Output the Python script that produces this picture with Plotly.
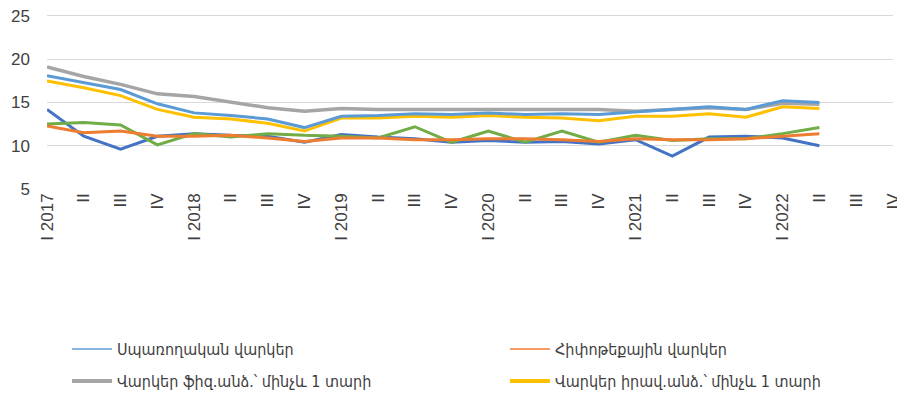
import plotly.graph_objects as go

categories = ["I 2017", "II", "III", "IV", "I 2018", "II", "III", "IV",
              "I 2019", "II", "III", "IV", "I 2020", "II", "III", "IV",
              "I 2021", "II", "III", "IV", "I 2022", "II", "III", "IV"]

consumer = [18.1, 17.3, 16.5, 14.85, 13.8, 13.5, 13.1, 12.1, 13.4, 13.5, 13.7, 13.6,
            13.8, 13.6, 13.7, 13.6, 13.9, 14.2, 14.5, 14.2, 15.2, 15.0]
mortgage = [12.3, 11.5, 11.7, 11.1, 11.1, 11.2, 10.9, 10.5, 10.9, 10.9, 10.7, 10.7,
            10.8, 10.8, 10.7, 10.5, 10.8, 10.7, 10.7, 10.8, 11.1, 11.4]
ind_short = [19.1, 18.0, 17.1, 16.0, 15.7, 15.1, 14.4, 14.0, 14.3, 14.2, 14.2, 14.2,
             14.2, 14.1, 14.2, 14.2, 14.0, 14.2, 14.4, 14.2, 14.9, 14.8]
legal_short = [17.5, 16.7, 15.8, 14.2, 13.3, 13.1, 12.6, 11.7, 13.2, 13.2, 13.4, 13.3,
               13.5, 13.3, 13.2, 12.9, 13.4, 13.4, 13.7, 13.3, 14.5, 14.3]
ind_long = [14.2, 11.1, 9.6, 11.1, 11.4, 11.2, 11.1, 10.4, 11.3, 11.0, 10.8, 10.4,
            10.6, 10.4, 10.5, 10.2, 10.7, 8.8, 11.0, 11.1, 10.9, 10.0]
legal_long = [12.5, 12.7, 12.4, 10.1, 11.4, 11.0, 11.4, 11.2, 11.1, 10.9, 12.2, 10.4,
              11.7, 10.4, 11.7, 10.4, 11.2, 10.6, 10.8, 10.8, 11.4, 12.1]

x_idx = list(range(len(categories)))

series = [
    ("Վարկեր ֆիզ.անձ.՝ 1 տարուց ավելի", ind_long, "#4472C4", 3),
    ("Վարկեր իրավ.անձ.՝ 1 տարուց ավելի", legal_long, "#70AD47", 3),
    ("Հիփոթեքային վարկեր", mortgage, "#ED7D31", 3),
    ("Վարկեր ֆիզ.անձ.՝ մինչև 1 տարի", ind_short, "#A5A5A5", 3.5),
    ("Վարկեր իրավ.անձ.՝ մինչև 1 տարի", legal_short, "#FFC000", 3),
    ("Սպառողական վարկեր", consumer, "#5B9BD5", 3),
]

fig = go.Figure()
for name, vals, color, w in series:
    fig.add_trace(go.Scatter(x=x_idx[:len(vals)], y=vals, mode="lines", name=name,
                             line=dict(color=color, width=w), showlegend=False))

legend_items = [
    ("Սպառողական վարկեր", "#5B9BD5", 1.5, "legend"),
    ("Հիփոթեքային վարկեր", "#ED7D31", 1.5, "legend2"),
    ("Վարկեր ֆիզ.անձ.՝ մինչև 1 տարի", "#A5A5A5", 4, "legend3"),
    ("Վարկեր իրավ.անձ.՝ մինչև 1 տարի", "#FFC000", 4, "legend4"),
]
for name, color, w, lg in legend_items:
    fig.add_trace(go.Scatter(x=[None], y=[None], mode="lines", name=name,
                             line=dict(color=color, width=w), legend=lg, showlegend=True))

W, H = 897, 393
legend_font = dict(family="DejaVu Sans Condensed", size=16, color="#404040")
common_legend = dict(orientation="h", xref="container", yref="container",
                     xanchor="left", yanchor="middle", font=legend_font,
                     itemwidth=40, bgcolor="rgba(0,0,0,0)")

fig.update_layout(
    width=W, height=H,
    margin=dict(l=39, r=12, t=6, b=212, autoexpand=False),
    plot_bgcolor="white", paper_bgcolor="white",
    legend=dict(x=59/W, y=52/H, **common_legend),
    legend2=dict(x=497/W, y=52/H, **common_legend),
    legend3=dict(x=59/W, y=20/H, **common_legend),
    legend4=dict(x=497/W, y=20/H, **common_legend),
    xaxis=dict(
        range=[0, 23], tickmode="array", tickvals=x_idx, ticktext=categories,
        tickangle=-90, showgrid=False, zeroline=False, showline=False, ticks="",
        automargin=False,
        tickfont=dict(family="Liberation Sans", size=17, color="#404040"),
    ),
    yaxis=dict(
        range=[5, 25.23], dtick=5, tick0=0, showgrid=True, gridcolor="#D9D9D9", gridwidth=1,
        zeroline=False, showline=False, ticks="", ticklabelstandoff=16, automargin=False,
        ticklabeloverflow="allow",
        tickfont=dict(family="Liberation Sans", size=17, color="#404040"),
    ),
)

fig.write_html("out.html")
